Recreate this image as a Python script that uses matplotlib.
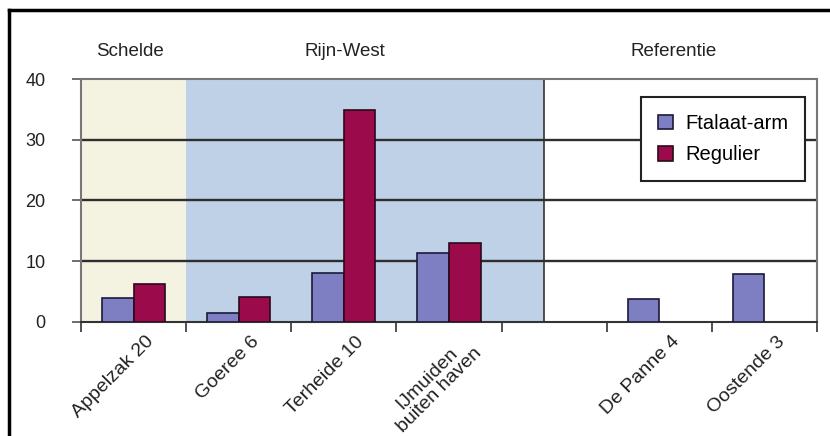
import matplotlib.pyplot as plt
import numpy as np
from matplotlib.lines import Line2D

plt.rcParams['font.family'] = ['Liberation Sans', 'DejaVu Sans']

# Sampling locations and measured values
locations = ["Appelzak 20", "Goeree 6", "Terheide 10", "IJmuiden\nbuiten haven",
             "", "De Panne 4", "Oostende 3"]
ftalaat_arm = [4.0, 1.5, 8.1, 11.4, np.nan, 3.8, 7.9]
regulier = [6.3, 4.1, 34.9, 13.0, np.nan, np.nan, np.nan]

# Region groups: name, label position, span and background colour
regions = ["Schelde", "Rijn-West", "Referentie"]
region_label_x = [-0.03, 2.01, 5.14]
region_spans = [(-0.5, 0.5), (0.5, 3.9), (3.9, 6.5)]
region_colors = ["#f4f2e1", "#bed1e6", "white"]

fig = plt.figure(figsize=(8.3, 4.36), dpi=100)
ax = fig.add_axes([0.0976, 0.2615, 0.8867, 0.5573])

x = np.arange(len(locations))
w = 0.3

for (a, b), c in zip(region_spans, region_colors):
    ax.axvspan(a, b, color=c, zorder=0, lw=0)
ax.axvline(region_spans[2][0], color="#333333", lw=1.2, zorder=1)

for yv in [10, 20, 30]:
    ax.axhline(yv, color="#2e2e2e", lw=1.7, zorder=1)

ax.bar(x - w / 2, ftalaat_arm, w, color="#7e7fc2", edgecolor="#1a1a3a",
       lw=1.2, zorder=3, label="Ftalaat-arm")
ax.bar(x + w / 2, regulier, w, color="#9b0a4a", edgecolor="#2a0a1a",
       lw=1.2, zorder=3, label="Regulier")

ax.set_xlim(-0.5, 6.5)
ax.set_ylim(0, 40)
ax.set_yticks([0, 10, 20, 30, 40])
ax.tick_params(axis="y", length=6.5, width=1.2, pad=19, labelsize=13,
               color="#555555", labelcolor="#222222")

ax.set_xticks(np.arange(-0.5, 7, 1))
ax.set_xticklabels([])
ax.tick_params(axis="x", length=7, width=1.2, direction="out", color="#333333")
for xi, lab in zip(x, locations):
    ax.text(xi + 0.11, -1.8, lab, rotation=45, rotation_mode="anchor",
            ha="right", va="top", fontsize=14, color="#222222",
            linespacing=1.0, multialignment="center")

for s in ["left", "right", "top"]:
    ax.spines[s].set_color("#777777")
    ax.spines[s].set_linewidth(1.5)
ax.spines["bottom"].set_color("#333333")
ax.spines["bottom"].set_linewidth(1.5)

for name, lx in zip(regions, region_label_x):
    ax.text(lx, 44.6, name, ha="center", va="center", fontsize=13.5,
            color="#222222")

leg = ax.legend(loc="upper right", bbox_to_anchor=(0.984, 0.926),
                borderaxespad=0, fontsize=14.5, frameon=True, fancybox=False,
                handlelength=0.75, handleheight=0.75, handletextpad=0.6,
                borderpad=0.85, labelspacing=0.6)
leg.get_frame().set_edgecolor("#222222")
leg.get_frame().set_linewidth(1.5)
leg.get_frame().set_facecolor("white")
leg.get_frame().set_alpha(1)

# outer frame around the figure (left and top edges)
fig.add_artist(Line2D([0.0107, 0.0107], [0.0, 0.977], color="black", lw=2.5,
                      transform=fig.transFigure))
fig.add_artist(Line2D([0.0107, 1.0], [0.977, 0.977], color="black", lw=2.5,
                      transform=fig.transFigure))

fig.savefig("out.png", dpi=100)
